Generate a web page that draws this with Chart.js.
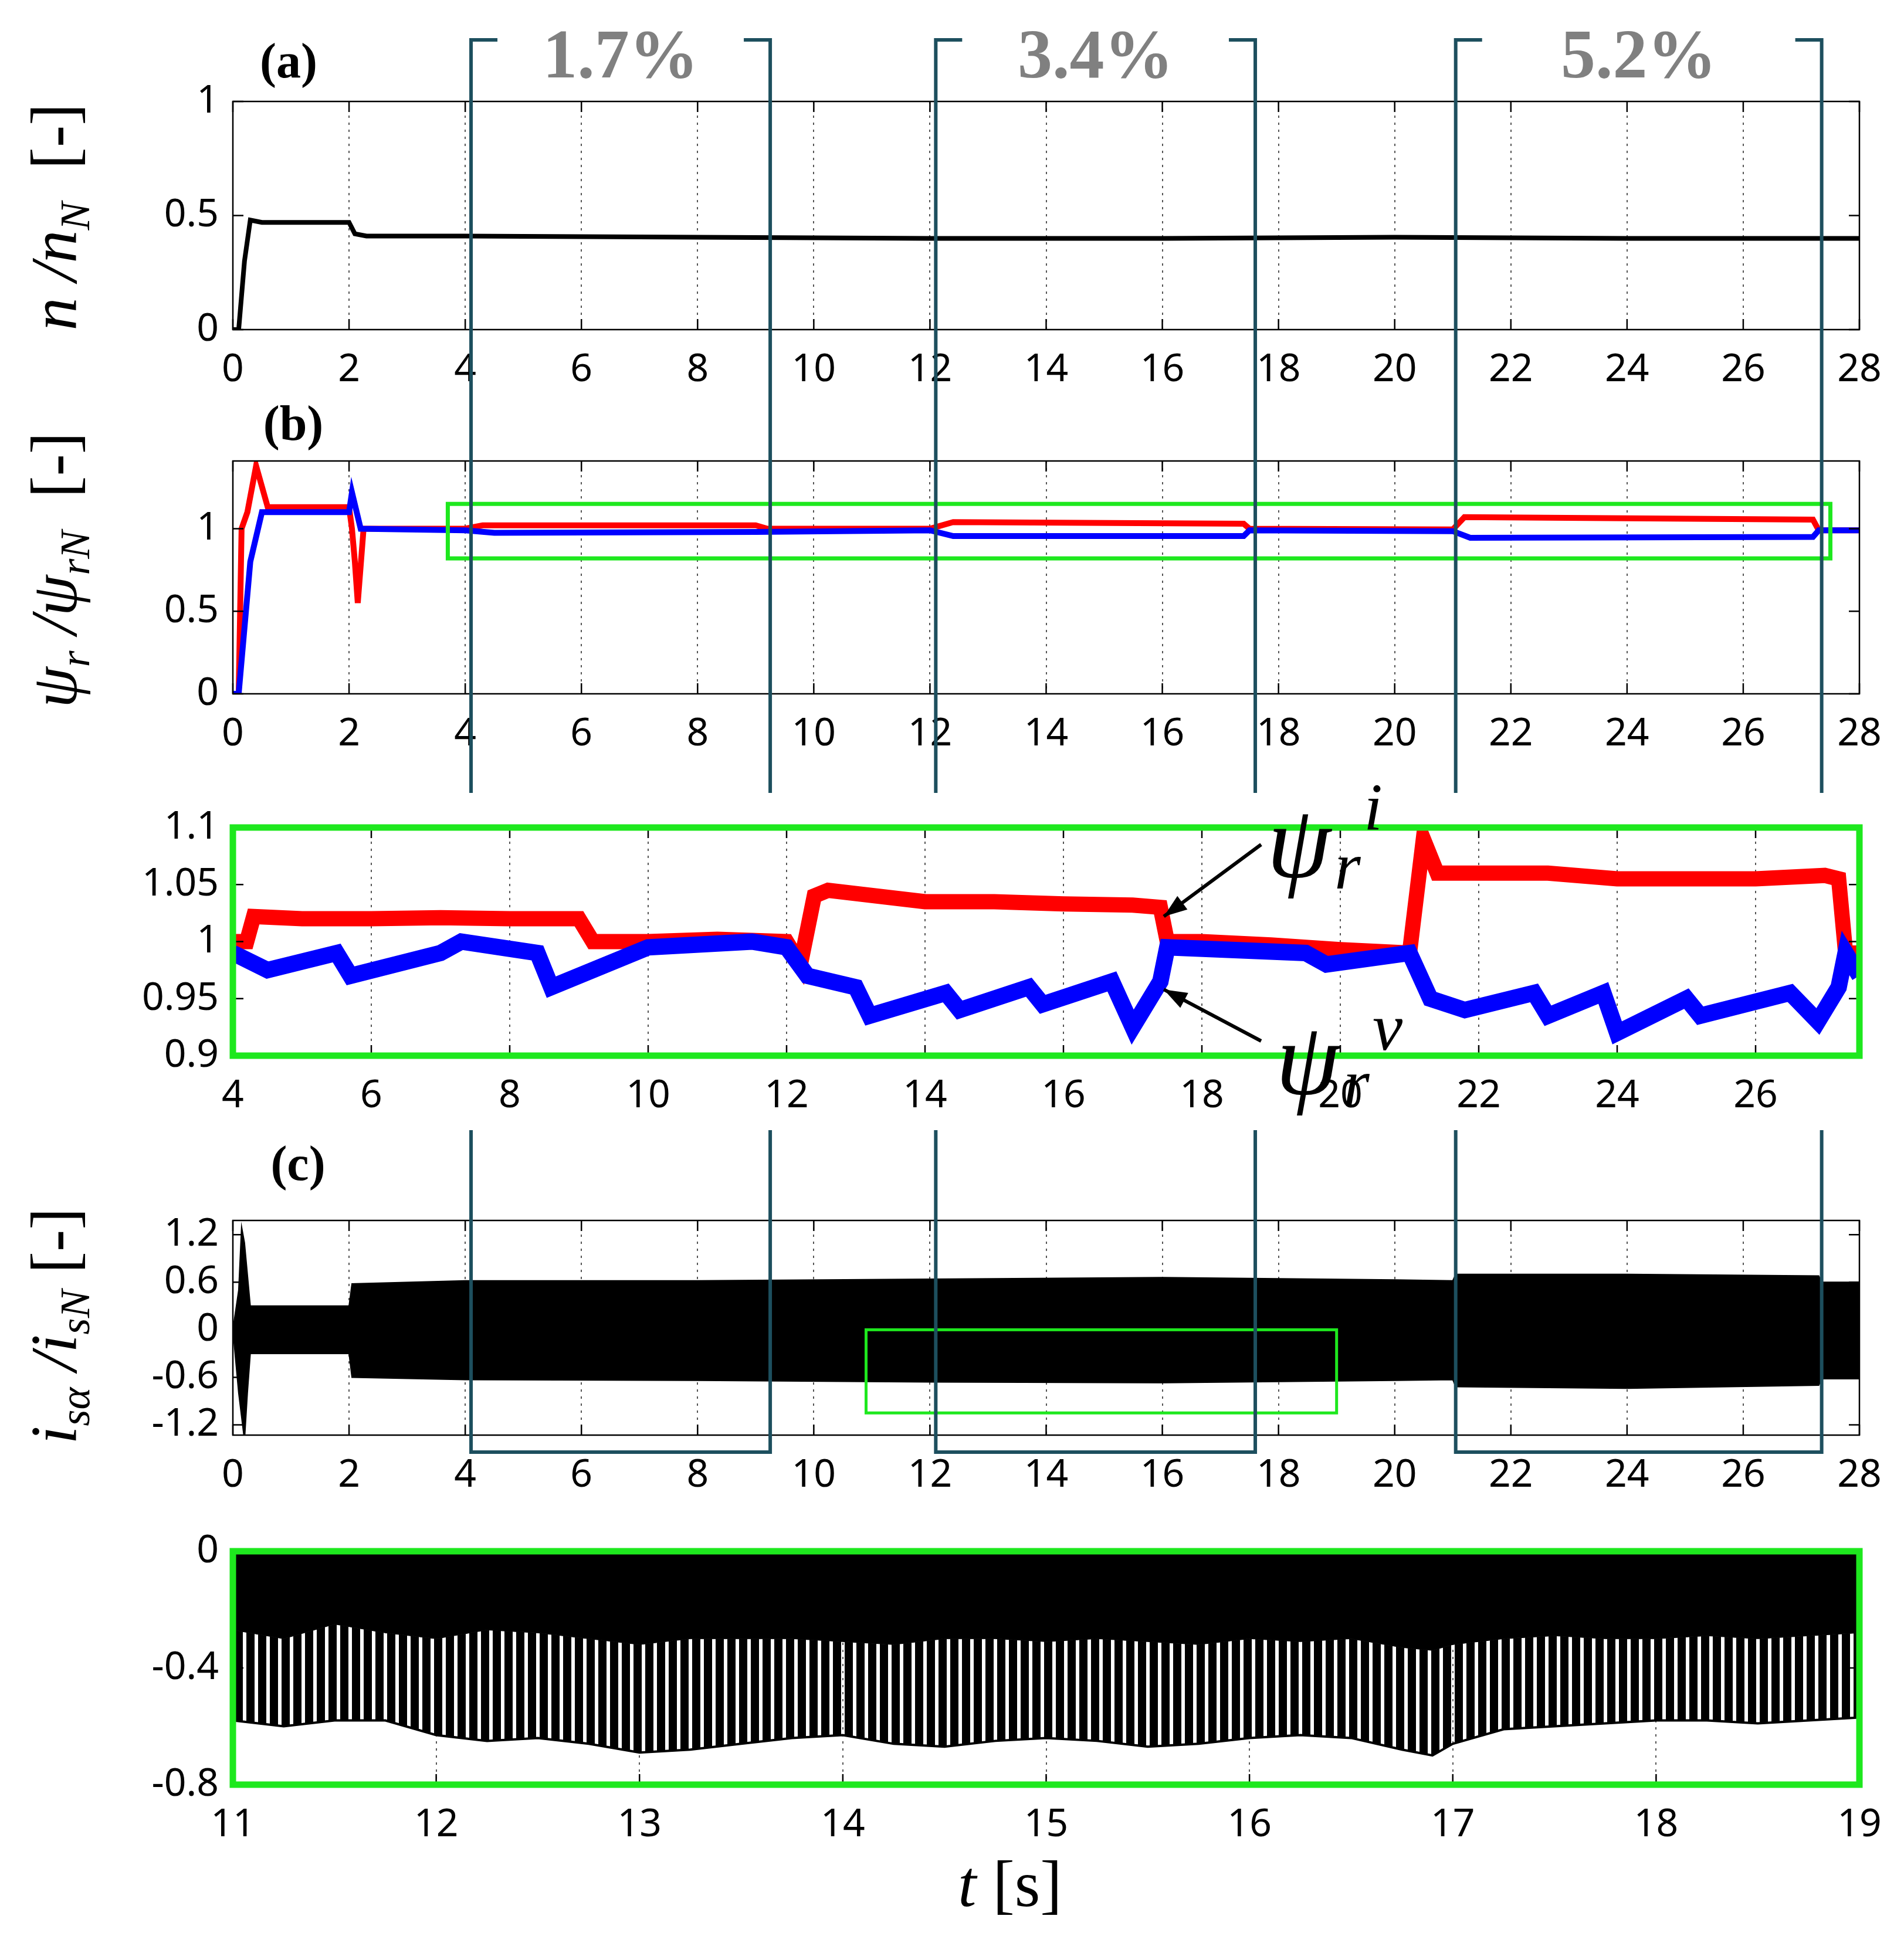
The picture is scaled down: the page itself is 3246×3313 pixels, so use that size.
<!DOCTYPE html>
<html><head><meta charset="utf-8">
<script src="https://cdn.jsdelivr.net/npm/chart.js@4.4.0/dist/chart.umd.min.js"></script>
<style>body{margin:0;background:#fff}canvas{position:absolute;left:0}#ov{pointer-events:none;z-index:5;top:0}</style>
</head><body>
<canvas id="ca"></canvas><canvas id="cb"></canvas><canvas id="cz"></canvas><canvas id="cc"></canvas><canvas id="ce"></canvas>
<canvas id="ov" width="3246" height="3313"></canvas>
<script>
// ---- data ----
const tA=[0,0.1,0.2,0.3,0.5,1.0,2.0,2.1,2.3,4,8,12,16,20,24,28];
const nA=[0,0,0.3,0.48,0.47,0.47,0.47,0.42,0.41,0.41,0.405,0.40,0.40,0.405,0.40,0.40];
const tB=[0,0.1,0.15,0.25,0.4,0.6,2.0,2.05,2.1,2.15,2.25,4,4.3,9.0,9.2,12.0,12.4,17.4,17.5,21.0,21.2,27.2,27.3,28];
const psiRB=[0,0,1.0,1.1,1.38,1.13,1.13,1.0,0.8,0.55,1.0,1.0,1.02,1.02,1.0,1.0,1.04,1.03,1.0,0.995,1.07,1.055,0.99,0.99];
const tBb=[0,0.1,0.3,0.5,2.0,2.05,2.2,4,4.5,9,12,12.4,17.4,17.5,21,21.3,27.2,27.3,28];
const psiVB=[0,0,0.8,1.1,1.1,1.22,1.0,0.99,0.975,0.98,0.99,0.955,0.955,0.99,0.985,0.945,0.95,0.99,0.99];
const tZr=[4,4.2,4.3,5,6,7,8,9,9.2,10,11,12,12.2,12.4,12.6,14,15,16,17,17.4,17.5,18,19,20,21,21.2,21.4,22,23,24,25,26,27,27.2,27.3,27.5];
const psiRZ=[1.0,1.0,1.022,1.02,1.02,1.021,1.02,1.02,1.0,1.0,1.002,1.0,0.98,1.04,1.045,1.035,1.035,1.033,1.032,1.03,1.0,1.0,0.997,0.993,0.99,1.09,1.06,1.06,1.06,1.055,1.055,1.055,1.058,1.055,0.99,0.99];
const tZv=[4,4.5,5.5,5.7,7,7.3,8.4,8.6,10,11.5,12,12.3,13,13.2,14.3,14.5,15.5,15.7,16.7,17,17.4,17.5,19.5,19.8,21,21.3,21.8,22.8,23,23.8,24,25,25.2,26.5,26.9,27.2,27.3,27.5];
const psiVZ=[0.99,0.975,0.99,0.97,0.99,1.0,0.99,0.96,0.995,1.0,0.995,0.97,0.96,0.935,0.955,0.94,0.96,0.945,0.965,0.925,0.965,0.995,0.99,0.98,0.99,0.95,0.94,0.955,0.935,0.955,0.92,0.95,0.935,0.955,0.93,0.96,0.99,0.97];
const tC=[0,0.1,0.15,0.2,0.25,0.3,0.35,2.0,2.05,4,8,12,16,20,21,21.05,24,27.3,27.35,28];
const iUp=[0,0.5,1.3,1.1,0.7,0.3,0.3,0.3,0.58,0.62,0.62,0.64,0.66,0.63,0.62,0.7,0.7,0.68,0.6,0.6];
const iLo=[0,-0.8,-1.1,-1.4,-0.8,-0.3,-0.3,-0.3,-0.6,-0.63,-0.64,-0.66,-0.67,-0.64,-0.63,-0.72,-0.74,-0.7,-0.62,-0.62];
const tE=[11,11.25,11.5,11.75,12,12.25,12.5,12.75,13,13.25,13.5,13.75,14,14.25,14.5,14.75,15,15.25,15.5,15.75,16,16.25,16.5,16.75,16.9,17,17.25,17.5,17.75,18,18.25,18.5,18.75,19];
const iLoE=[-0.58,-0.6,-0.58,-0.58,-0.63,-0.65,-0.64,-0.66,-0.69,-0.68,-0.66,-0.64,-0.63,-0.66,-0.67,-0.65,-0.64,-0.65,-0.67,-0.66,-0.64,-0.63,-0.64,-0.68,-0.70,-0.66,-0.61,-0.6,-0.59,-0.58,-0.58,-0.59,-0.58,-0.57];
const iMidE=[-0.27,-0.3,-0.25,-0.28,-0.3,-0.27,-0.28,-0.3,-0.32,-0.3,-0.3,-0.3,-0.31,-0.32,-0.3,-0.3,-0.31,-0.3,-0.31,-0.32,-0.3,-0.31,-0.3,-0.33,-0.34,-0.32,-0.3,-0.29,-0.3,-0.3,-0.29,-0.3,-0.29,-0.28];
const ticksX28=[0,2,4,6,8,10,12,14,16,18,20,22,24,26,28];
const ticksXZ=[4,6,8,10,12,14,16,18,20,22,24,26];
const ticksXE=[11,12,13,14,15,16,17,18,19];
const ticksY1=[0,0.5,1];
const ticksYZ=[0.9,0.95,1,1.05,1.1];
const ticksYC=[-1.2,-0.6,0,0.6,1.2];
const ticksYE=[-0.8,-0.4,0];
const brackets=[[4.1,9.25,'1.7%'],[12.1,17.6,'3.4%'],[21.05,27.35,'5.2%']];
// ---- helpers ----
const L=397,R=3170,W=3246,TOP=80,XH=125;
const TF={family:'Noto Sans',size:66};
const GREEN='#1ee81e',TEAL='#1d4f5e';
const pts=(xs,ys)=>xs.map((x,i)=>({x,y:ys[i]}));
const boxPlugin={id:'box',afterDraw(ch){const o=ch.config.options.plugins.box;const a=ch.chartArea,c=ch.ctx;c.save();
 c.strokeStyle='#000';c.lineWidth=2.5;
 ch.scales.x.ticks.forEach(t=>{const p=ch.scales.x.getPixelForValue(t.value);c.beginPath();c.moveTo(p,a.bottom);c.lineTo(p,a.bottom-18);c.moveTo(p,a.top);c.lineTo(p,a.top+18);c.stroke();});
 ch.scales.y.ticks.forEach(t=>{const p=ch.scales.y.getPixelForValue(t.value);c.beginPath();c.moveTo(a.left,p);c.lineTo(a.left+18,p);c.moveTo(a.right,p);c.lineTo(a.right-18,p);c.stroke();});
 (o.rects||[]).forEach(r=>{c.strokeStyle=r.color;c.lineWidth=r.w;const x1=ch.scales.x.getPixelForValue(r.x[0]),x2=ch.scales.x.getPixelForValue(r.x[1]),y1=ch.scales.y.getPixelForValue(r.y[0]),y2=ch.scales.y.getPixelForValue(r.y[1]);c.strokeRect(x1,y2,x2-x1,y1-y2);});
 c.strokeStyle=o.color||'#000';c.lineWidth=o.w||2.5;c.strokeRect(a.left,a.top,a.right-a.left,a.bottom-a.top);c.restore();}};
function make(id,top,h,xmin,xmax,xt,ymin,ymax,yt,datasets,box,fmtY){
 const cv=document.getElementById(id);cv.width=W;cv.height=TOP+h+XH;cv.style.top=(top-TOP)+'px';
 const ch=new Chart(cv,{type:'line',data:{datasets},plugins:[boxPlugin],options:{animation:false,responsive:false,devicePixelRatio:1,
  layout:{padding:{left:0,right:W-R,top:TOP,bottom:0}},
  elements:{point:{radius:0},line:{tension:0}},
  plugins:{legend:{display:false},tooltip:{enabled:false},box},
  scales:{x:{type:'linear',min:xmin,max:xmax,afterFit:s=>{s.height=XH},afterBuildTicks:s=>{s.ticks=xt.map(v=>({value:v}))},
    ticks:{font:TF,color:'#000',padding:30,maxRotation:0,autoSkip:false},grid:{color:'#555',lineWidth:2,drawTicks:false},border:{display:false,dash:[4,8]}},
   y:{type:'linear',min:ymin,max:ymax,afterFit:s=>{s.width=L},afterBuildTicks:s=>{s.ticks=yt.map(v=>({value:v}))},
    ticks:{font:TF,color:'#000',padding:24,autoSkip:false,callback:fmtY||(v=>String(v))},grid:{display:false,drawTicks:false},border:{display:false}}}}});
 ch.offY=top-TOP;return ch;
}
const ca=make('ca',173,389,0,28,ticksX28,0,1,ticksY1,[{data:pts(tA,nA),borderColor:'#000',borderWidth:8}],{});
make('cb',786,397,0,28,ticksX28,0,1.41,ticksY1,[
 {data:pts(tBb,psiVB),borderColor:'#0000ff',borderWidth:10},{data:pts(tB,psiRB),borderColor:'#ff0000',borderWidth:10}],
 {rects:[{x:[3.7,27.5],y:[0.82,1.15],color:GREEN,w:7}]});
const cz=make('cz',1411,389,4,27.5,ticksXZ,0.9,1.1,ticksYZ,[
 {data:pts(tZv,psiVZ),borderColor:'#0000ff',borderWidth:28},{data:pts(tZr,psiRZ),borderColor:'#ff0000',borderWidth:26}],
 {color:GREEN,w:11});
make('cc',2081,366,0,28,ticksX28,-1.33,1.38,ticksYC,[
 {data:pts(tC,iUp),borderColor:'#000',borderWidth:2,backgroundColor:'#000',fill:'+1'},{data:pts(tC,iLo),borderColor:'#000',borderWidth:2}],
 {rects:[{x:[10.9,19],y:[-1.05,0],color:GREEN,w:5}]});
const pc=document.createElement('canvas');pc.width=20;pc.height=4;const px=pc.getContext('2d');px.fillStyle='#000';px.fillRect(0,0,14,4);
const pat=document.createElement('canvas').getContext('2d').createPattern(pc,'repeat');
make('ce',2645,398,11,19,ticksXE,-0.8,0,ticksYE,[
 {data:pts(tE,tE.map(()=>0)),borderColor:'#000',borderWidth:0,backgroundColor:'#000',fill:'+1'},
 {data:pts(tE,iMidE),borderColor:'#000',borderWidth:1,backgroundColor:pat,fill:'+1'},
 {data:pts(tE,iLoE),borderColor:'#000',borderWidth:4}],
 {color:GREEN,w:11});
// ---- overlay ----
const o=document.getElementById('ov').getContext('2d');
function rich(segs,cx,cy,rot){o.save();o.translate(cx,cy);if(rot)o.rotate(-Math.PI/2);let w=0;segs.forEach(s=>{o.font=s[1];w+=o.measureText(s[0]).width});
 let x=-w/2;o.textBaseline='alphabetic';o.fillStyle='#000';segs.forEach(s=>{o.font=s[1];o.fillText(s[0],x,(s[2]||0)+35);x+=o.measureText(s[0]).width});o.restore();}
const IT='italic 112px "Liberation Serif"',SB='italic 72px "Liberation Serif"',RG='112px "Liberation Serif"';
rich([['n ',IT],['/n',IT],['N',SB,22],['  [-]',RG]],95,370,true);
rich([['ψ',IT],['r',SB,22],[' /ψ',IT],['rN',SB,22],['  [-]',RG]],95,972,true);
rich([['i',IT],['sα',SB,22],[' /i',IT],['sN',SB,22],[' [-]',RG]],95,2261,true);
rich([['t',IT],[' [s]',RG]],1722,3215,false);
o.font='bold 84px "Liberation Serif"';o.textAlign='center';o.fillStyle='#000';
o.fillText('(a)',492,132);o.fillText('(b)',500,750);o.fillText('(c)',508,2012);
// brackets
const xs=ca.scales.x;o.strokeStyle=TEAL;o.lineWidth=6;
brackets.forEach(b=>{const x1=xs.getPixelForValue(b[0]),x2=xs.getPixelForValue(b[1]);
 o.beginPath();o.moveTo(x1+45,68);o.lineTo(x1,68);o.lineTo(x1,1352);o.moveTo(x2-45,68);o.lineTo(x2,68);o.lineTo(x2,1352);
 o.moveTo(x1,1927);o.lineTo(x1,2476);o.lineTo(x2,2476);o.lineTo(x2,1927);o.stroke();
 o.font='bold 118px "Liberation Serif"';o.fillStyle='#808080';o.textAlign='center';o.fillText(b[2],(x1+x2)/2,132);});
// psi labels with arrows
const zx=cz.scales.x,zy=cz.scales.y,zo=cz.offY;
function arrow(x0,y0,x1,y1){o.strokeStyle='#000';o.fillStyle='#000';o.lineWidth=6;o.beginPath();o.moveTo(x0,y0);o.lineTo(x1,y1);o.stroke();
 const a=Math.atan2(y1-y0,x1-x0),s=42;o.beginPath();o.moveTo(x1,y1);o.lineTo(x1-s*Math.cos(a-0.35),y1-s*Math.sin(a-0.35));o.lineTo(x1-s*Math.cos(a+0.35),y1-s*Math.sin(a+0.35));o.closePath();o.fill();}
arrow(2150,1440,zx.getPixelForValue(17.45),zo+zy.getPixelForValue(1.022));
arrow(2150,1775,zx.getPixelForValue(17.45),zo+zy.getPixelForValue(0.958));
o.textAlign='left';o.fillStyle='#000';
o.font='italic 175px "Liberation Serif"';o.fillText('ψ',2160,1495);o.fillText('ψ',2175,1865);
o.font='italic 115px "Liberation Serif"';o.fillText('r',2275,1515);o.fillText('r',2290,1885);
o.fillText('i',2325,1415);o.fillText('v',2340,1790);
</script></body></html>
